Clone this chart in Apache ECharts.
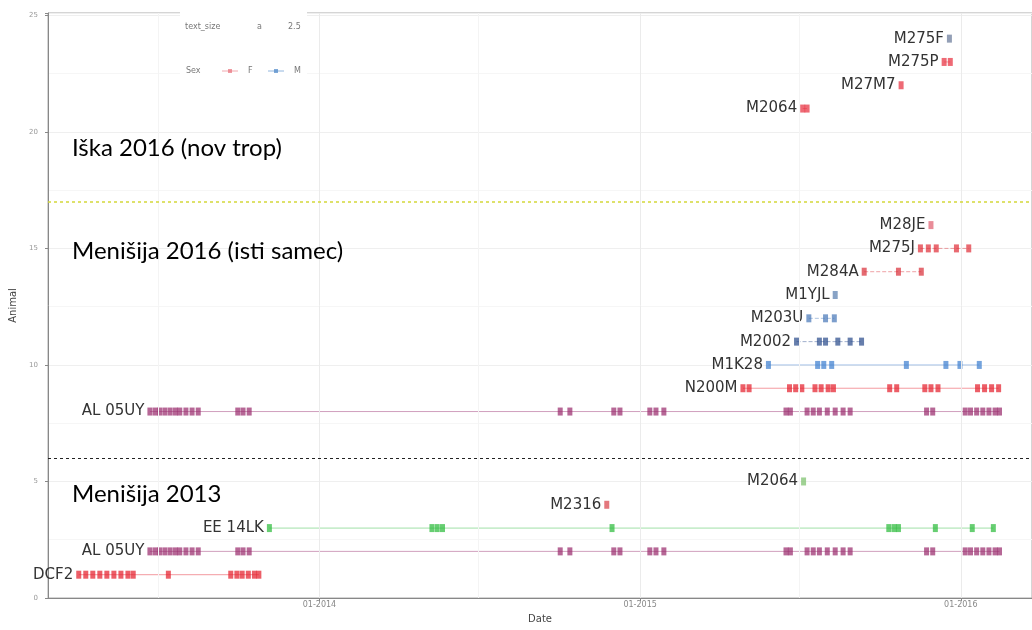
<!DOCTYPE html>
<html><head><meta charset="utf-8">
<script src="https://cdn.jsdelivr.net/npm/echarts@6/dist/echarts.min.js"></script>
<style>html,body{margin:0;padding:0;background:#fff}#c{width:1032px;height:630px}</style>
</head><body><div id="c"></div>
<script>
// ---------- data ----------
const xTickDates = ['2014-01-01', '2015-01-01', '2016-01-01'];
const xTickLabels = ['01-2014', '01-2015', '01-2016'];
const xMinorDates = ['2013-07-01', '2014-07-01', '2015-07-01'];
const xRange = ['2013-02-26', '2016-03-22'];
const yTicks = [0, 5, 10, 15, 20, 25];
const separatorRows = [6, 17];

const datesDCF2 = ['2013-04-02','2013-04-10','2013-04-18','2013-04-26','2013-05-04','2013-05-12','2013-05-20','2013-05-28','2013-06-03','2013-07-13','2013-09-22','2013-09-29','2013-10-05','2013-10-12','2013-10-19','2013-10-24'];
const datesAL05UY = ['2013-06-22','2013-06-28','2013-07-03','2013-07-09','2013-07-15','2013-07-21','2013-07-26','2013-08-02','2013-08-09','2013-08-16','2013-09-30','2013-10-06','2013-10-13','2014-10-02','2014-10-13','2014-12-02','2014-12-09','2015-01-12','2015-01-19','2015-01-28','2015-06-16','2015-06-21','2015-07-10','2015-07-17','2015-07-24','2015-08-02','2015-08-11','2015-08-20','2015-08-28','2015-11-23','2015-11-30','2016-01-06','2016-01-12','2016-01-19','2016-01-26','2016-02-02','2016-02-09','2016-02-14'];
const datesEE14LK = ['2013-11-05','2014-05-09','2014-05-15','2014-05-21','2014-11-30','2015-10-11','2015-10-17','2015-10-22','2015-12-03','2016-01-14','2016-02-07'];
const datesM2316 = ['2014-11-24'];
const datesM2064a = ['2015-07-06'];
const datesN200M = ['2015-04-28','2015-05-05','2015-06-20','2015-06-27','2015-07-04','2015-07-19','2015-07-26','2015-08-03','2015-08-09','2015-10-12','2015-10-20','2015-11-21','2015-11-28','2015-12-06','2016-01-20','2016-01-28','2016-02-05','2016-02-13'];
const datesM1K28 = ['2015-05-27','2015-07-22','2015-07-29','2015-08-07','2015-10-31','2015-12-15','2015-12-31','2016-01-22'];
const datesM2002 = ['2015-06-28','2015-07-24','2015-07-31','2015-08-14','2015-08-28','2015-09-10'];
const datesM203U = ['2015-07-12','2015-07-31','2015-08-10'];
const datesM1YJL = ['2015-08-11'];
const datesM284A = ['2015-09-13','2015-10-22','2015-11-17'];
const datesM275J = ['2015-11-16','2015-11-25','2015-12-04','2015-12-27','2016-01-10'];
const datesM28JE = ['2015-11-28'];
const datesM2064b = ['2015-07-05','2015-07-10'];
const datesM27M7 = ['2015-10-25'];
const datesM275P = ['2015-12-13','2015-12-20'];
const datesM275F = ['2015-12-19'];

const animalNames = ['DCF2','AL 05UY','EE 14LK','M2316','M2064','AL 05UY','N200M','M1K28','M2002','M203U','M1YJL','M284A','M275J','M28JE','M2064','M27M7','M275P','M275F'];
const animalRows  = [1, 2, 3, 4, 5, 8, 9, 10, 11, 12, 13, 14, 15, 16, 21, 22, 23, 24];
const animalDates = [datesDCF2, datesAL05UY, datesEE14LK, datesM2316, datesM2064a, datesAL05UY, datesN200M, datesM1K28, datesM2002, datesM203U, datesM1YJL, datesM284A, datesM275J, datesM28JE, datesM2064b, datesM27M7, datesM275P, datesM275F];

const sexLegend = ['F', 'M'];
const annotations = ['Iška 2016 (nov trop)', 'Menišija 2016 (isti samec)', 'Menišija 2013'];

// ---------- styles ----------
const rowColors = ['#e5202c','#9a2d6e','#2dbb3c','#d9434b','#7cc06b','#9a2d6e','#e5202c','#3f7fd0','#2b4c8c','#4a78b8','#5a7fb0','#d9303a','#e0303a','#e06070','#e83040','#e83040','#e83040','#6a7a9a'];
const rowLineTypes = ['solid','solid','solid','solid','solid','solid','solid','solid','dashed','dashed','solid','dashed','dashed','solid','solid','solid','solid','solid'];
const sexColors = ['#e8707a', '#4a86c8'];

const ts = s => Date.parse(s + 'T00:00:00Z');
const xTickVals = xTickDates.map(ts);
const rgba = (hex, a) => {
  const n = parseInt(hex.slice(1), 16);
  return 'rgba(' + ((n >> 16) & 255) + ',' + ((n >> 8) & 255) + ',' + (n & 255) + ',' + a + ')';
};

const series = animalNames.map((name, i) => ({
  type: 'line',
  name: name + '_' + i,
  data: animalDates[i].map((d, j) => j === 0
    ? { value: [ts(d), animalRows[i]], label: { show: true } }
    : [ts(d), animalRows[i]]),
  symbol: 'rect',
  symbolSize: [5, 8],
  showSymbol: true,
  itemStyle: { color: rgba(rowColors[i], 0.72) },
  lineStyle: { color: rgba(rowColors[i], 0.45), width: 1, type: rowLineTypes[i] },
  label: { show: false, position: 'left', distance: 3, formatter: name,
           fontFamily: 'DejaVu Sans', fontSize: 15, color: '#333' },
  emphasis: { disabled: true },
  silent: true,
  z: 3
}));

const gridLineData = [];
xTickVals.forEach(v => gridLineData.push({ xAxis: v, lineStyle: { color: '#ebebeb', width: 1, type: 'solid' } }));
xMinorDates.forEach(d => gridLineData.push({ xAxis: ts(d), lineStyle: { color: '#f4f4f4', width: 1, type: 'solid' } }));

series.unshift({
  type: 'line', name: 'grid', data: [], z: 1, silent: true,
  markLine: { silent: true, symbol: ['none', 'none'], label: { show: false }, data: gridLineData, animation: false }
});
series.push({
  type: 'line', name: 'sep', data: [], z: 2, silent: true,
  markLine: { silent: true, symbol: ['none', 'none'], label: { show: false }, animation: false,
    data: [
      { yAxis: separatorRows[0], lineStyle: { color: '#222', width: 1, type: [3, 3] } },
      { yAxis: separatorRows[1], lineStyle: { color: '#d4d83a', width: 1.5, type: [3, 3] } }
    ] }
});

const chart = echarts.init(document.getElementById('c'), null, { renderer: 'canvas' });
chart.setOption({
  animation: false,
  backgroundColor: '#fff',
  grid: { left: 47, right: 0, top: 13, bottom: 32, show: true, borderColor: '#aaa', borderWidth: 1, backgroundColor: 'transparent' },
  xAxis: {
    type: 'value', min: ts(xRange[0]), max: ts(xRange[1]),
    name: 'Date', nameLocation: 'middle', nameGap: 16,
    nameTextStyle: { fontFamily: 'DejaVu Sans', fontSize: 10, color: '#444' },
    axisLine: { show: true, lineStyle: { color: '#888' } },
    axisTick: { show: true, customValues: xTickVals, length: 3, lineStyle: { color: '#888' } },
    axisLabel: { customValues: xTickVals, fontFamily: 'DejaVu Sans', fontSize: 8, color: '#888', margin: 3,
      formatter: v => { const k = xTickVals.indexOf(v); return k >= 0 ? xTickLabels[k] : ''; } },
    splitLine: { show: false }
  },
  yAxis: {
    type: 'value', min: yTicks[0], max: 25.1, interval: 5,
    name: 'Animal', nameLocation: 'middle', nameGap: 30,
    nameTextStyle: { fontFamily: 'DejaVu Sans', fontSize: 10, color: '#444' },
    axisLine: { show: true, lineStyle: { color: '#888' } },
    axisTick: { show: true, length: 3, lineStyle: { color: '#888' } },
    axisLabel: { fontFamily: 'DejaVu Sans', fontSize: 7, color: '#999', margin: 10,
      formatter: v => (yTicks.indexOf(v) >= 0 ? String(v) : '') },
    splitLine: { show: true, lineStyle: { color: '#efefef' } },
    minorTick: { show: false, splitNumber: 2 },
    minorSplitLine: { show: true, lineStyle: { color: '#f6f6f6' } }
  },
  series: series,
  graphic: [
    { type: 'rect', shape: { x: 180, y: 3, width: 127, height: 88 }, style: { fill: '#fff' }, z: 10 },
    { type: 'text', x: 185, y: 27, style: { text: 'text_size', fontFamily: 'DejaVu Sans', fontSize: 8, fill: '#777', verticalAlign: 'middle' }, z: 11 },
    { type: 'text', x: 257, y: 27, style: { text: 'a', fontFamily: 'DejaVu Sans', fontSize: 8, fill: '#777', verticalAlign: 'middle' }, z: 11 },
    { type: 'text', x: 288, y: 27, style: { text: '2.5', fontFamily: 'DejaVu Sans', fontSize: 8, fill: '#777', verticalAlign: 'middle' }, z: 11 },
    { type: 'text', x: 186, y: 71, style: { text: 'Sex', fontFamily: 'DejaVu Sans', fontSize: 8, fill: '#777', verticalAlign: 'middle' }, z: 11 },
    { type: 'line', shape: { x1: 222, y1: 71, x2: 238, y2: 71 }, style: { stroke: sexColors[0], lineWidth: 1, opacity: 0.6 }, z: 11 },
    { type: 'rect', shape: { x: 228, y: 69, width: 4, height: 4 }, style: { fill: sexColors[0], opacity: 0.7 }, z: 11 },
    { type: 'text', x: 248, y: 71, style: { text: sexLegend[0], fontFamily: 'DejaVu Sans', fontSize: 8, fill: '#777', verticalAlign: 'middle' }, z: 11 },
    { type: 'line', shape: { x1: 268, y1: 71, x2: 284, y2: 71 }, style: { stroke: sexColors[1], lineWidth: 1, opacity: 0.6 }, z: 11 },
    { type: 'rect', shape: { x: 274, y: 69, width: 4, height: 4 }, style: { fill: sexColors[1], opacity: 0.7 }, z: 11 },
    { type: 'text', x: 294, y: 71, style: { text: sexLegend[1], fontFamily: 'DejaVu Sans', fontSize: 8, fill: '#777', verticalAlign: 'middle' }, z: 11 },
    { type: 'text', x: 72, y: 148, style: { text: annotations[0], fontFamily: 'Lato', fontSize: 24, fill: '#000', verticalAlign: 'middle' }, z: 12 },
    { type: 'text', x: 72, y: 251, style: { text: annotations[1], fontFamily: 'Lato', fontSize: 24, fill: '#000', verticalAlign: 'middle' }, z: 12 },
    { type: 'text', x: 72, y: 494, style: { text: annotations[2], fontFamily: 'Lato', fontSize: 24, fill: '#000', verticalAlign: 'middle' }, z: 12 }
  ]
});
</script>
</body></html>
